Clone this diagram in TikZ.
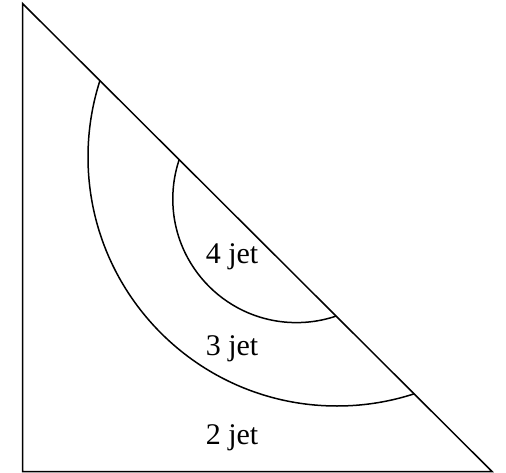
\documentclass[tikz,border=0pt]{standalone}
\usepackage{fontspec}
\setmainfont{Liberation Serif}
\begin{document}
\begin{tikzpicture}[x=1pt,y=1pt,
  edge/.style={line width=1.5pt,black},
  lbl/.style={font=\fontsize{30}{36}\selectfont,inner sep=0pt}]
\useasboundingbox (0,0) rectangle (506,-473);
\coordinate (top) at (22.5,-3.5);
\coordinate (bl) at (22.5,-471.5);
\coordinate (br) at (492,-471.5);
\coordinate (co) at (337,-157);
\coordinate (ci) at (296.4,-199);
\begin{scope}
  \clip (top) -- (bl) -- (br) -- cycle;
  \draw[edge] (co) circle (249);
  \draw[edge] (ci) circle (123.6);
\end{scope}
\draw[edge,line join=miter] (top) -- (bl) -- (br) -- cycle;
\node[lbl] (l4) at (232,-257) {4 jet};
\node[lbl] (l3) at (232,-349) {3 jet};
\node[lbl] (l2) at (232,-438) {2 jet};
\end{tikzpicture}
\end{document}
